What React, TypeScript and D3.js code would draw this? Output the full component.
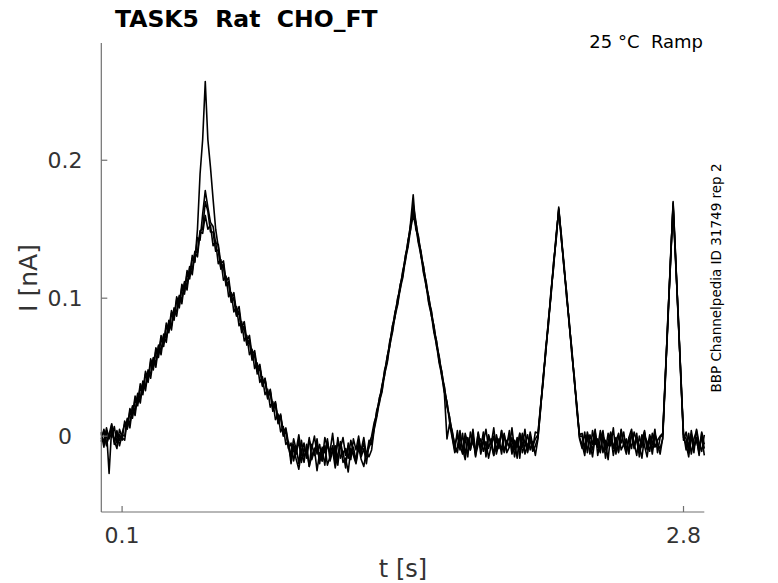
import * as d3 from 'd3'

// sampling interval of the recorded sweeps, in seconds
const sampleStep = 0.0125

// current per sample, in pA (four repetitions of the ramp protocol)
const sweepA = [
  3, -5, 6, -2, 8, -6, 4, -3, 2,
  9, 5, 18, 13, 27, 22, 36, 30, 45, 39, 54, 48, 62, 57, 71, 65, 80, 75, 89, 84, 99, 93, 108, 103, 118, 114, 129, 126, 150, 190, 215, 257,
  215, 195, 172, 150, 137, 122, 125, 110, 112, 98, 101, 88, 91, 77, 80, 67, 70, 57, 60, 47, 50, 37, 41, 28, 32, 19, 23, 10, 14, 1, 3, -9,
  -5, -18, -8, -20, -3, -15, -10, -22, -6, -14, -2, -17, -9, -21, -4, -13, -7, -19, -1, -16, -11, -23, -5, -12, -8, -18, -3, -15, -9, -20, -6,
  0, 10, 15, 28, 33, 48, 54, 69, 76, 90, 96, 110, 116, 131, 138, 155, 175, 150, 145, 130, 123, 108, 101, 87, 80, 65, 58, 43, 36, 21, 14, 0, -10,
  4, -10, 2, -14, -1, -8, 5, -12, -3, -9, 3, -15, 0, -6, 6, -11, -2, -13, 1, -7, 4, -10, -4, -16, 2, -8, 5, -12, -1, -9, 3,
  2, 22, 40, 64, 81, 105, 123, 146, 163, 146, 122, 105, 81, 64, 40, 22, -2,
  -9, 3, -12, 1, -6, 5, -14, -2, 4, -10, 2, -7, 6, -13, 0, -5, 3, -11, -1, 5, -8, 2, -15, -3, 4, -9, 1, -6, 5, -12, -1,
  1, 44, 84, 129, 167, 125, 86, 40, 2,
  -10, 2, -13, -2, 4, -9, 0, -14
]

const sweepB = [
  -4, 5, -7, 2, -1, 7, -5, 1, -3,
  11, 6, 20, 15, 29, 24, 38, 33, 47, 41, 56, 50, 64, 59, 73, 67, 82, 77, 91, 86, 101, 95, 110, 105, 120, 116, 131, 127, 144, 142, 161, 178,
  166, 155, 152, 140, 139, 125, 127, 112, 115, 100, 104, 90, 94, 79, 83, 69, 73, 59, 62, 49, 52, 39, 42, 30, 34, 21, 25, 12, 16, 3, 6, -5,
  -14, -2, -10, 1, -12, -5, -16, -3, -9, 0, -13, -6, -18, -1, -8, -11, 2, -15, -4, -9, -1, -14, -7, -17, -2, -10, 0, -12, -5, -15, -3,
  -6, 6, 19, 24, 37, 44, 58, 65, 80, 86, 100, 106, 120, 127, 142, 150, 168, 156, 141, 134, 119, 112, 97, 91, 76, 69, 54, 47, 32, 25, 10, 4, -8,
  -12, 0, -9, -17, -3, -10, 1, -14, -6, -2, -11, -4, -16, -7, 0, -13, -5, -9, 2, -12, -8, -1, -15, -4, -10, 1, -13, -6, -3, -11, -7,
  -1, 19, 43, 60, 84, 101, 126, 142, 166, 142, 126, 101, 84, 60, 43, 19, 1,
  2, -8, -1, -13, 4, -6, -2, -10, 1, -16, -4, 3, -9, -1, -12, 5, -7, -3, -11, 2, -5, -14, 0, -8, 3, -10, -2, -13, 1, -6, -9,
  -2, 40, 87, 125, 170, 129, 83, 44, -3,
  3, -7, -1, -12, 5, -5, -11, 1
]

const sweepC = [
  2, -8, 4, -27, 6, -3, -9, 5, -1,
  -3, 12, 6, 21, 15, 30, 24, 39, 33, 47, 42, 56, 50, 65, 59, 73, 68, 83, 77, 92, 87, 101, 96, 111, 106, 122, 117, 133, 130, 148, 147, 160,
  150, 153, 138, 141, 125, 128, 113, 116, 101, 104, 90, 94, 80, 83, 69, 73, 59, 63, 49, 53, 39, 43, 30, 34, 21, 25, 12, 16, 3, 7, -6, -4,
  -20, -8, -17, -24, -11, -19, -6, -22, -14, -9, -25, -12, -18, -7, -21, -15, -10, -23, -13, -6, -19, -16, -26, -9, -14, -20, -8, -17, -22, -11, -15,
  -10, 5, 14, 25, 32, 45, 53, 66, 75, 87, 95, 107, 115, 128, 137, 150, 160, 152, 140, 131, 118, 109, 96, 88, 75, 66, 53, 44, 31, -2, 9, -1, -12,
  -8, 4, -11, -1, -15, 3, -6, -10, 2, -13, -4, 5, -9, -2, -14, 1, -7, 4, -12, -3, -8, 6, -10, -1, -16, 2, -5, -11, 3, -7, -2,
  1, 21, 39, 63, 80, 104, 122, 145, 164, 143, 123, 102, 83, 61, 42, 18, -1,
  -6, -14, 1, -4, -10, 3, -7, -12, 0, -5, -17, 2, -8, -3, -11, 4, -6, -13, -1, -9, 3, -4, -12, 1, -7, -15, -2, -10, 2, -5, -13,
  -1, 43, 82, 128, 166, 126, 87, 41, -1,
  -6, -15, 1, -8, -3, -12, 3, -6
]

const sweepD = [
  -2, 4, -6, 1, 9, -4, 2, -7, 1,
  0, 13, 9, 22, 18, 31, 27, 40, 36, 48, 45, 57, 53, 66, 62, 74, 71, 84, 80, 93, 90, 102, 99, 112, 109, 123, 120, 134, 133, 149, 150, 170,
  163, 148, 148, 134, 135, 121, 123, 109, 111, 97, 100, 87, 90, 75, 79, 66, 69, 55, 59, 45, 50, 36, 41, 27, 33, 18, 24, 9, 15, 0, 5, -8,
  -16, -6, -13, -3, -19, -9, -14, -1, -17, -10, -5, -20, -8, -12, -2, -18, -11, -7, -21, -4, -13, -9, -16, -3, -12, -19, -6, -10, -1, -14, -8,
  -4, 7, 18, 27, 36, 47, 57, 68, 79, 89, 99, 109, 119, 130, 141, 153, 163, 155, 144, 133, 122, 111, 100, 90, 79, 68, 57, 46, 35, 24, 13, 3, -6,
  0, -7, -13, 2, -5, -10, -1, -15, 3, -8, -4, -12, 1, -6, -14, -2, -9, 4, -11, -5, 0, -13, -3, -8, 2, -12, -6, 1, -10, -4, -14,
  -2, 20, 42, 61, 83, 102, 125, 143, 165, 145, 123, 104, 82, 63, 40, 21, 0,
  0, -11, 3, -5, -15, -1, -8, 4, -12, -3, -7, 1, -14, -4, 2, -10, -6, -2, -13, 3, -9, -1, -7, -16, 0, -4, -11, 2, -8, -3, 0,
  2, 41, 86, 126, 169, 128, 84, 43, 1,
  -2, -11, 4, -7, -1, -14, 2, -9
]

const sweeps = [sweepA, sweepB, sweepC, sweepD]

const xTicks = [0.1, 2.8]
const yTicks = [0, 0.1, 0.2]

const width = 778
const height = 583
const margin = { top: 43, right: 73.7, bottom: 71, left: 101.3 }

const font = 'DejaVu Sans, sans-serif'
const axisColor = '#707070'
const labelColor = '#333333'

export default function App() {
  const x = d3.scaleLinear()
    .domain([0, 2.9])
    .range([margin.left, width - margin.right])

  const y = d3.scaleLinear()
    .domain([-0.055, 0.285])
    .range([height - margin.bottom, margin.top])

  const line = d3.line<number>()
    .x((_: number, i: number) => x(i * sampleStep))
    .y((d: number) => y(d / 1000))

  const x0 = margin.left
  const x1 = width - margin.right
  const y0 = height - margin.bottom
  const y1 = margin.top

  return (
    <svg
      width={width}
      height={height}
      style={{ position: 'absolute', left: 0, top: 0, background: '#fff' }}
      fontFamily={font}
    >
      <rect width={width} height={height} fill="#fff" />

      <g fill="none" stroke="#000" strokeWidth={1.6} strokeLinejoin="round">
        {sweeps.map((s, i) => (
          <path key={i} d={line(s) || ''} />
        ))}
      </g>

      {/* axes */}
      <g stroke={axisColor} strokeWidth={1.2} fill="none">
        <line x1={x0} x2={x0} y1={y1} y2={y0} />
        <line x1={x0} x2={x1} y1={y0} y2={y0} />
        {yTicks.map(t => (
          <line key={t} x1={x0} x2={x0 + 6} y1={y(t)} y2={y(t)} />
        ))}
        {xTicks.map(t => (
          <line key={t} x1={x(t)} x2={x(t)} y1={y0} y2={y0 - 6} />
        ))}
      </g>

      <g fill={labelColor} fontSize={22}>
        {yTicks.map(t => (
          <text key={t} x={65} y={y(t)} dy="0.36em" textAnchor="middle">
            {t === 0 ? '0' : String(t)}
          </text>
        ))}
        {xTicks.map(t => (
          <text key={t} x={x(t)} y={y0 + 31} textAnchor="middle">
            {String(t)}
          </text>
        ))}
      </g>

      <text x={403} y={577} textAnchor="middle" fontSize={24} fill={labelColor}>
        t [s]
      </text>
      <text
        transform="translate(37,278) rotate(-90)"
        textAnchor="middle"
        fontSize={25}
        fill={labelColor}
      >
        I [nA]
      </text>

      <text x={115} y={27} fontSize={23.5} fontWeight="bold" fill="#000" style={{ whiteSpace: 'pre' }}>
        {'TASK5  Rat  CHO_FT'}
      </text>
      <text x={703} y={48} fontSize={18} textAnchor="end" fill="#000" style={{ whiteSpace: 'pre' }}>
        {'25 °C  Ramp'}
      </text>
      <text
        transform="translate(721,278) rotate(-90)"
        textAnchor="middle"
        fontSize={13.5}
        fill="#000"
      >
        BBP Channelpedia ID 31749 rep 2
      </text>
    </svg>
  )
}
